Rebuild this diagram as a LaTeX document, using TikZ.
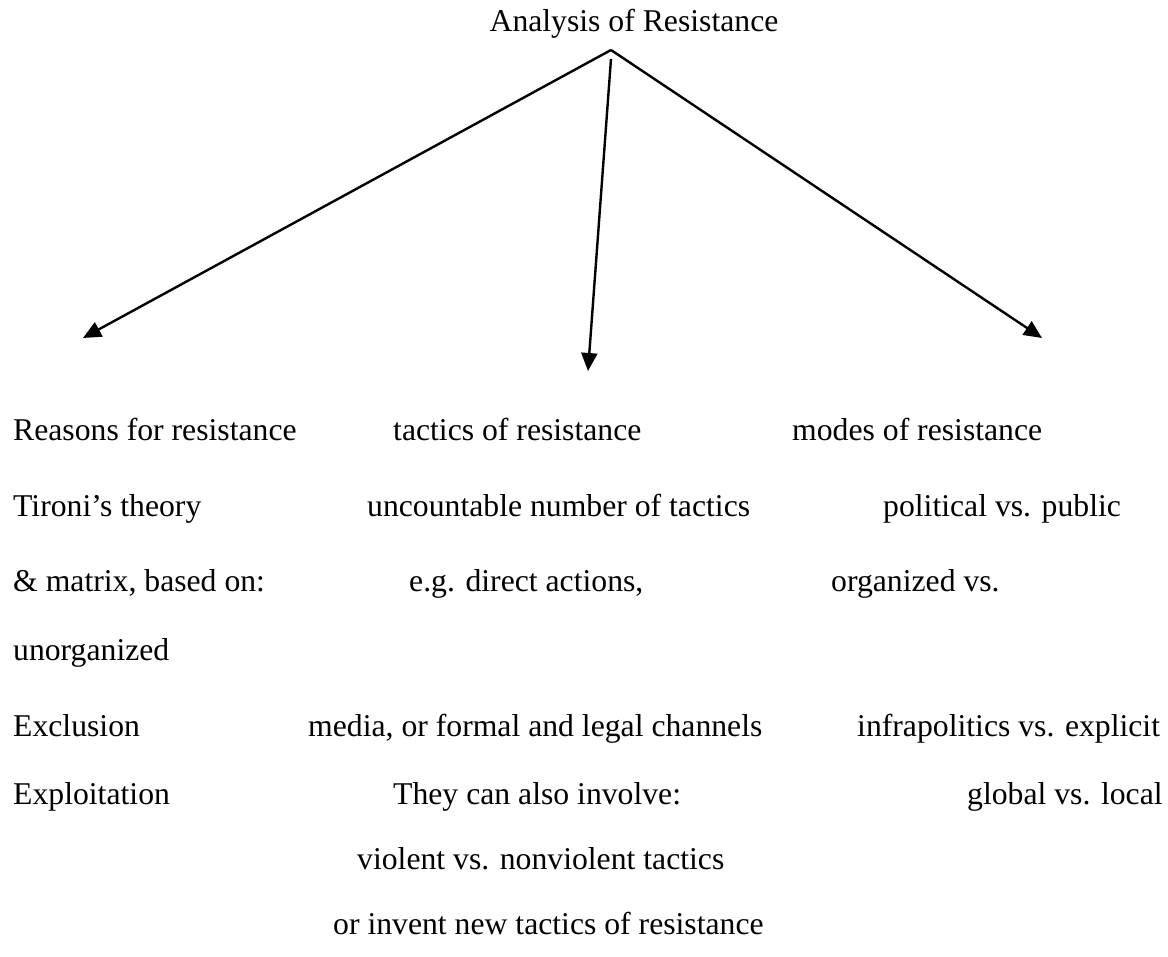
\documentclass[tikz,border=0pt]{standalone}
\usepackage{fontspec}
\setmainfont{Liberation Serif}
\usetikzlibrary{arrows.meta}

\tikzset{item/.style={anchor=base west,inner sep=0pt},
  branch/.style={-{Triangle[length=9pt,width=8pt]}}}

\begin{document}
\begin{tikzpicture}[x=0.5pt,y=-0.5pt,line width=1.2pt,every node/.style={font=\fontsize{15.85}{19}\selectfont}]
\useasboundingbox (0,0) rectangle (1168,957);
\node[anchor=base,inner sep=0pt] (title) at (634,32) {Analysis of Resistance};
\coordinate (apex) at (611,50);
\coordinate (midtop) at (611,59);
\coordinate (lefttip) at (83,338);
\coordinate (midtip) at (588,371);
\coordinate (righttip) at (1042,338);
\draw[branch] (apex) -- (lefttip);
\draw[branch] (midtop) -- (midtip);
\draw[branch] (apex) -- (righttip);
% left column
\node[item] (reasons) at (12,440) {Reasons for resistance};
\node[item] (tironi) at (12,516) {Tironi’s theory};
\node[item] (matrix) at (12,591) {\& matrix, based on:};
\node[item] (unorg) at (12,660) {unorganized};
\node[item] (exclusion) at (12,736) {Exclusion};
\node[item] (exploit) at (12,804) {Exploitation};
% middle column
\node[item] (tactics) at (392,440) {tactics of resistance};
\node[item] (uncount) at (366,516) {uncountable number of tactics};
\node[item] (direct) at (408,591) {e.g. direct actions,};
\node[item] (media) at (307,736) {media, or formal and legal channels};
\node[item] (involve) at (392,804) {They can also involve:};
\node[item] (violent) at (356,869) {violent vs. nonviolent tactics};
\node[item] (invent) at (332,934) {or invent new tactics of resistance};
% right column
\node[item] (modes) at (791,440) {modes of resistance};
\node[item] (political) at (882,516) {political vs. public};
\node[item] (organized) at (830,591) {organized vs.};
\node[item] (infra) at (856,736) {infrapolitics vs. explicit};
\node[item] (global) at (966,804) {global vs. local};
\end{tikzpicture}
\end{document}
